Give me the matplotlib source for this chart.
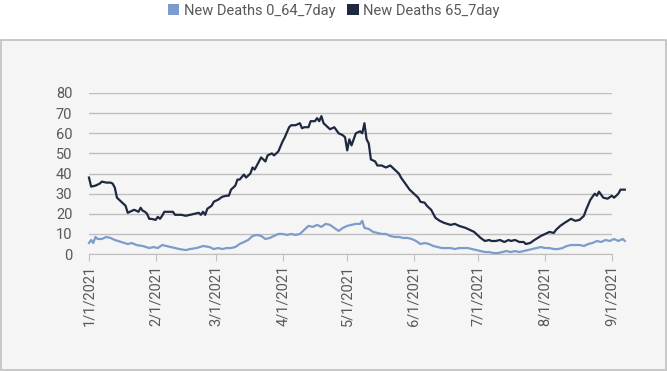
import matplotlib.pyplot as plt
from matplotlib.patches import Rectangle, Patch
import pandas as pd

# day offsets from 1/1/2021 and values (10 per line)
days_65 = [0, 1, 3, 5, 6, 8, 10, 11, 12, 13,
           15, 17, 18, 19, 21, 23, 24, 25, 26, 27,
           28, 29, 31, 32, 33, 34, 35, 37, 39, 40,
           43, 45, 47, 49, 51, 52, 53, 54, 55, 57,
           58, 60, 62, 64, 65, 66, 68, 69, 70, 72,
           73, 75, 76, 77, 79, 80, 82, 83, 85, 86,
           88, 90, 91, 93, 94, 96, 98, 99, 100, 102,
           103, 105, 106, 107, 108, 109, 110, 112, 114, 116,
           118, 119, 120, 121, 122, 124, 126, 127, 128, 129,
           130, 131, 133, 134, 136, 138, 140, 142, 144, 145,
           147, 149, 151, 153, 154, 156, 157, 159, 161, 163,
           165, 168, 170, 172, 175, 177, 179, 182, 184, 186,
           187, 189, 191, 193, 195, 196, 198, 200, 202, 203,
           205, 207, 210, 212, 214, 216, 217, 219, 221, 224,
           226, 228, 230, 231, 233, 235, 236, 237, 239, 241,
           243, 244, 246, 247, 249]
deaths_65 = [38, 33.5, 34, 35, 36, 35.5, 35.5, 35, 33, 28,
             26, 24, 20.5, 21, 22, 21, 23, 21.5, 21, 20,
             17.5, 17.5, 17, 18.5, 17.5, 19, 21, 21, 21, 19.5,
             19.5, 19, 19.5, 20, 20.5, 19.5, 21, 19.5, 22.5, 24,
             26, 27, 28.5, 29, 29, 32, 34, 37, 37, 39.5,
             38, 40, 43, 42, 46, 48, 46, 49, 50, 49,
             51, 56, 58, 63, 64, 64, 65, 62.5, 63, 63,
             66, 66, 67.5, 66, 68.5, 65, 64, 62, 63, 60,
             59, 58, 51.5, 57, 54, 60, 61, 60, 65, 57,
             55, 47, 46, 44, 44, 43, 44, 42, 40, 38,
             35, 32, 30, 28, 26, 25.5, 24, 22, 18, 16.5,
             15.5, 14.5, 15, 14, 13, 12, 11, 8, 6.5, 7,
             6.5, 6.5, 7, 6, 7, 6.5, 7, 6, 6, 5,
             5.5, 7, 9, 10, 11, 10.5, 12, 14, 15.5, 17.5,
             16.5, 17, 19, 22, 27, 30, 29, 31, 28, 27.5,
             29, 28, 30, 32, 32]

days_064 = [0, 1, 2, 3, 4, 6, 8, 10, 12, 15,
            18, 20, 22, 25, 28, 30, 32, 34, 36, 38,
            40, 42, 45, 47, 50, 53, 56, 58, 60, 62,
            64, 66, 68, 70, 72, 74, 76, 78, 80, 82,
            84, 86, 88, 90, 92, 94, 96, 98, 100, 102,
            104, 106, 108, 110, 112, 114, 116, 118, 120, 122,
            124, 126, 127, 128, 130, 132, 134, 136, 138, 140,
            142, 144, 146, 148, 150, 152, 154, 156, 158, 160,
            162, 164, 166, 168, 170, 172, 174, 176, 178, 180,
            182, 184, 186, 188, 190, 192, 194, 196, 198, 200,
            202, 204, 206, 208, 210, 212, 214, 216, 218, 220,
            222, 224, 226, 228, 230, 232, 234, 236, 238, 240,
            242, 244, 246, 248, 249]
deaths_064 = [5.5, 7, 5.5, 8.5, 7.5, 7.5, 8.5, 8, 7, 6,
              5, 5.5, 4.5, 4, 3, 3.5, 3, 4.5, 4, 3.5,
              3, 2.5, 2, 2.5, 3, 4, 3.5, 2.5, 3, 2.5,
              3, 3, 3.5, 5, 6, 7, 9, 9.5, 9, 7.5,
              8, 9, 10, 10, 9.5, 10, 9.5, 10, 12, 14,
              13.5, 14.5, 13.5, 15, 14.5, 13, 11.5, 13, 14, 14.5,
              15, 15, 16.5, 13, 12.5, 11, 10.5, 10, 10, 9,
              8.5, 8.5, 8, 8, 7.5, 6.5, 5, 5.5, 5, 4,
              3.5, 3, 3, 3, 2.5, 3, 3, 3, 2.5, 2,
              1.5, 1, 1, 0.5, 0.5, 1, 1.5, 1, 1.5, 1,
              1.5, 2, 2.5, 3, 3.5, 3, 3, 2.5, 2.5, 3,
              4, 4.5, 4.5, 4.5, 4, 5, 5.5, 6.5, 6, 7,
              6.5, 7.5, 6.5, 7.5, 6.5]

labels = ['New Deaths 0_64_7day', 'New Deaths 65_7day']
colors = ['#7c9ccb', '#1e2940']
month_ticks = pd.date_range('2021-01-01', '2021-09-01', freq='MS')

start = pd.Timestamp('2021-01-01')
dates_65 = start + pd.to_timedelta(days_65, unit='D')
dates_064 = start + pd.to_timedelta(days_064, unit='D')

plt.rcParams['font.family'] = ['Roboto', 'DejaVu Sans']
grey = '#595959'

fig = plt.figure(figsize=(6.67, 3.72), dpi=100)
# grey chart-area box behind the plot
fig.patches.append(Rectangle((0.001, 0.005), 0.997, 0.887, transform=fig.transFigure,
                             facecolor='#f5f5f5', edgecolor='#bfbfbf', linewidth=1.2,
                             zorder=-10))

ax = fig.add_axes([0.1334, 0.317, 0.784, 0.433])
ax.set_facecolor('none')
ax.plot(dates_064, deaths_064, color=colors[0], linewidth=1.6, clip_on=False, zorder=3)
ax.plot(dates_65, deaths_65, color=colors[1], linewidth=1.6, clip_on=False, zorder=4)

ax.set_ylim(0, 80)
ax.set_yticks(range(0, 81, 10))
ax.set_xlim(month_ticks[0], month_ticks[-1])
ax.set_xticks(month_ticks)
ax.set_xticklabels([f'{d.month}/{d.day}/{d.year}' for d in month_ticks])
ax.tick_params(axis='x', rotation=90, length=5, color='#bfbfbf', labelcolor=grey,
               labelsize=10.5, pad=3)
ax.tick_params(axis='y', length=0, labelcolor=grey, labelsize=10.5, pad=12)
ax.grid(axis='y', color='#bfbfbf', linewidth=1)
for s in ['top', 'right', 'left']:
    ax.spines[s].set_visible(False)
ax.spines['bottom'].set_color('#bfbfbf')
ax.set_axisbelow(True)

handles = [Patch(facecolor=c, edgecolor='none') for c in colors]
fig.legend(handles, labels, loc='upper center', bbox_to_anchor=(0.5, 1.025), ncol=2,
           frameon=False, fontsize=10.5, labelcolor=grey, handlelength=0.8,
           handleheight=0.8, handletextpad=0.3, columnspacing=0.8)

fig.savefig('out.png', dpi=100)
